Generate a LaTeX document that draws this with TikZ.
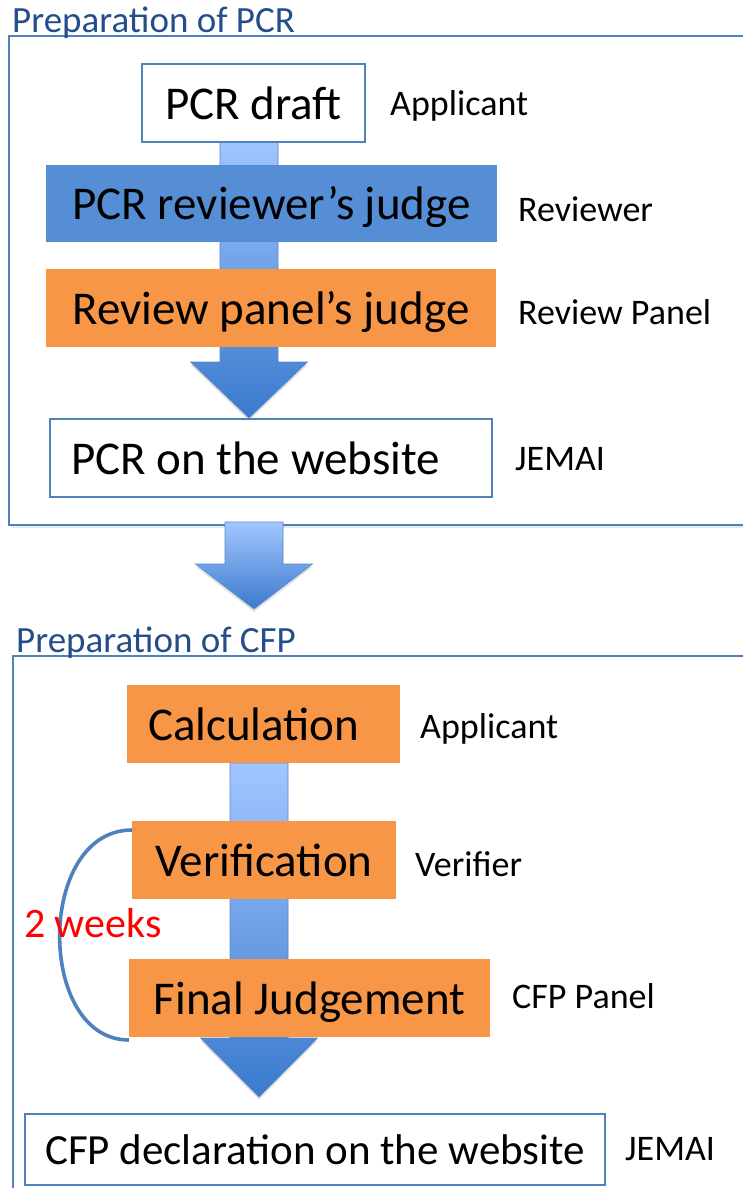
\documentclass[tikz,border=0pt]{standalone}
\usepackage{fontspec}
\setmainfont{Carlito}
\usetikzlibrary{calc,shadows}
\definecolor{orangefill}{RGB}{247,150,70}
\definecolor{bluefill}{RGB}{85,142,213}
\definecolor{boxline}{RGB}{79,129,189}
\definecolor{titleblue}{RGB}{36,78,138}
\definecolor{arrtop}{RGB}{162,198,255}
\definecolor{arrbot}{RGB}{58,122,205}
\definecolor{arredge}{RGB}{90,135,200}
\newcommand\fmain{\fontsize{47}{56}\selectfont}
\newcommand\fdecl{\fontsize{43}{51}\selectfont}
\newcommand\flabel{\fontsize{36}{43}\selectfont}
\newcommand\ftitle{\fontsize{37}{44}\selectfont}
\newcommand\fweeks{\fontsize{42}{50}\selectfont}
\newcommand\blockarrow[3]{%
  \path[blockarr] let \p1=(#1), \p2=(#2) in
    ({\x1-29pt},{\y1}) -- ({\x1+29pt},{\y1}) -- ({\x1+29pt},{\y2+#3}) --
    ({\x1+58.5pt},{\y2+#3}) -- ({\x1},{\y2}) -- ({\x1-58.5pt},{\y2+#3}) --
    ({\x1-29pt},{\y2+#3}) -- cycle;}
\tikzset{
  frame/.style={draw=boxline, line width=1.5pt, fill=white,
    drop shadow={opacity=0.18, shadow xshift=2pt, shadow yshift=-3pt}},
  blockarr/.style={shade, top color=arrtop, bottom color=arrbot,
    draw=arredge, line width=0.6pt,
    drop shadow={opacity=0.22, shadow xshift=0pt, shadow yshift=-3pt}},
  stepbase/.style={inner sep=0pt, font=\fmain, text height=42.3pt, text depth=8.9pt},
  whitebox/.style={stepbase, draw=boxline, line width=1.5pt, fill=white},
  orangebox/.style={stepbase, fill=orangefill},
  bluebox/.style={stepbase, fill=bluefill},
  role/.style={anchor=west, inner sep=0pt, font=\flabel, text height=28.8pt, text depth=5.6pt},
  sectitle/.style={anchor=base west, inner sep=0pt, font=\ftitle, text=titleblue},
  bracket/.style={draw=boxline, line width=3.6pt},
}
\begin{document}
\begin{tikzpicture}[x=1pt,y=-1pt]
\useasboundingbox (0,0) rectangle (743,1188);
\clip (0,0) rectangle (743,1188);
\fill[white] (0,0) rectangle (743,1188);

% section frames
\path[frame] (9,36) rectangle (820,525);
\path[frame] (13,656) rectangle (820,1260);
\node[sectitle] (t1) at (12,33) {Preparation of PCR};
\node[sectitle] (t2) at (16,652) {Preparation of CFP};

% arrow coordinates
\coordinate (a1s) at (249,137);
\coordinate (a1e) at (249,418);
\coordinate (a2s) at (254,522);
\coordinate (a2e) at (254,609);
\coordinate (a3s) at (259,763);
\coordinate (a3e) at (259,1097);
\blockarrow{a1s}{a1e}{56pt}
\blockarrow{a2s}{a2e}{45pt}
\blockarrow{a3s}{a3e}{59pt}

% PCR boxes
\node[whitebox, minimum width=223pt, minimum height=78pt] (draft) at (253.5,103) {PCR draft};
\node[bluebox, minimum width=451pt, minimum height=77pt] (rev) at (271.5,203) {PCR reviewer’s judge};
\node[orangebox, minimum width=450pt, minimum height=78pt] (panel) at (271,308) {Review panel’s judge};
\node[whitebox, minimum width=442pt, minimum height=78pt] (web) at (271,458) {\makebox[400pt][l]{PCR on the website}};

% CFP boxes
\node[orangebox, minimum width=273pt, minimum height=78pt] (calc) at (263.5,724) {\makebox[231pt][l]{Calculation}};
\node[orangebox, minimum width=264pt, minimum height=78pt] (verif) at (264,860) {Verification};
\node[orangebox, minimum width=361pt, minimum height=78pt] (final) at (309.5,998) {Final Judgement};
\node[whitebox, font=\fdecl, text height=38.7pt, text depth=8.2pt, minimum width=580pt, minimum height=71pt] (decl) at (315,1149.5) {CFP declaration on the website};

% roles
\node[role] (r1) at (390,104) {Applicant};
\node[role] (r2) at (518,210) {Reviewer};
\node[role] (r3) at (518,312.5) {Review Panel};
\node[role] (r4) at (515,459) {JEMAI};
\node[role] (r5) at (420,727) {Applicant};
\node[role] (r6) at (415,865) {Verifier};
\node[role] (r7) at (512,997) {CFP Panel};
\node[role] (r8) at (625,1149) {JEMAI};

% two-week bracket
\coordinate (b1) at (132,830);
\coordinate (b2) at (129,1040);
\draw[bracket] (b1) .. controls (36,830) and (36,1040) .. (b2);
\node[anchor=west, inner sep=0pt, font=\fweeks, text=red, text height=33pt, text depth=6.6pt] (weeks) at (24,924) {2 weeks};
\end{tikzpicture}
\end{document}
